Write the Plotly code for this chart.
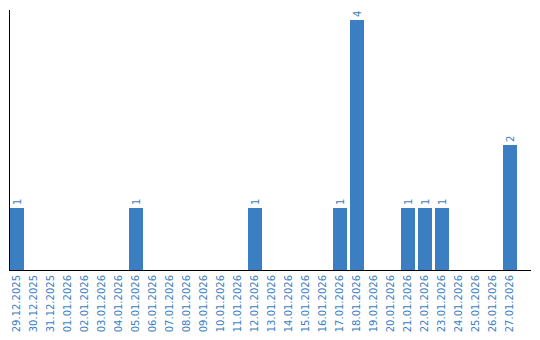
import plotly.graph_objects as go

dates = ["29.12.2025", "30.12.2025", "31.12.2025", "01.01.2026", "02.01.2026", "03.01.2026",
         "04.01.2026", "05.01.2026", "06.01.2026", "07.01.2026", "08.01.2026", "09.01.2026",
         "10.01.2026", "11.01.2026", "12.01.2026", "13.01.2026", "14.01.2026", "15.01.2026",
         "16.01.2026", "17.01.2026", "18.01.2026", "19.01.2026", "20.01.2026", "21.01.2026",
         "22.01.2026", "23.01.2026", "24.01.2026", "25.01.2026", "26.01.2026", "27.01.2026"]
counts = [1, 0, 0, 0, 0, 0, 0, 1, 0, 0, 0, 0, 0, 0, 1, 0, 0, 0, 0, 1, 4, 0, 0, 1, 1, 1, 0, 0, 0, 2]

blue = "#3b7ec2"
xs = list(range(len(dates)))
labels = [str(v) if v else "" for v in counts]

fig = go.Figure(go.Bar(
    x=xs, y=counts, width=14 / 17, marker=dict(color=blue, line=dict(width=0)),
    text=labels, textposition="outside", textangle=-90, cliponaxis=False,
    textfont=dict(family="DejaVu Sans", size=10, color=blue),
))
fig.update_layout(
    width=540, height=340, margin=dict(l=10, r=9, t=10, b=70),
    paper_bgcolor="white", plot_bgcolor="white", showlegend=False,
    bargap=0,
    font=dict(family="DejaVu Sans", size=10, color=blue),
)
fig.update_xaxes(
    range=[-7 / 17, (531 - 17) / 17], tickmode="array", tickvals=xs, ticktext=dates,
    tickangle=-90, showgrid=False, zeroline=False, showline=True, linecolor="black",
    linewidth=1, ticks="", tickfont=dict(family="DejaVu Sans", size=10, color=blue),
)
fig.update_yaxes(
    range=[0, 260 / 62.5], showticklabels=False, showgrid=False, zeroline=False,
    showline=True, linecolor="black", linewidth=1, ticks="",
)
fig.write_html("out.html")
